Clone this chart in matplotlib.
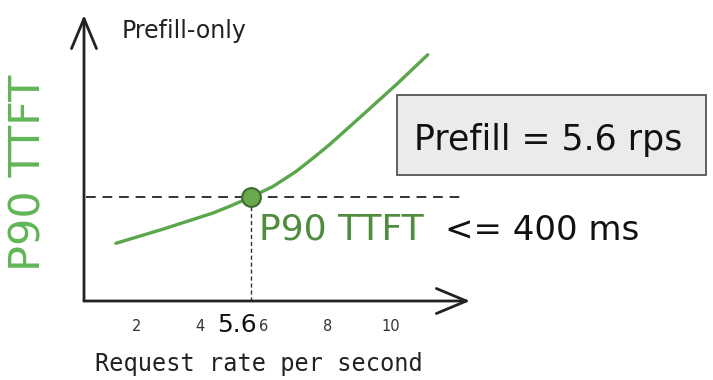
import matplotlib
matplotlib.use("Agg")
import matplotlib.pyplot as plt
from matplotlib.patches import Rectangle
from matplotlib.transforms import blended_transform_factory

# Точки кривой (rps -> P90 TTFT, мс)
rate = [1.35, 2.82, 4.39, 4.92, 5.6, 6.28, 7.01, 7.54, 8.06, 9.11, 10.16, 11.15]
ttft = [222, 276, 338, 364, 400, 440, 498, 549, 601, 716, 832, 947]

slo_ms = 400
prefill_rps = 5.6
tick_vals = [2, 4, 6, 8, 10]
tick_labels = ["2", "4", "6", "8", "10"]

W, H = 713, 380
GREEN = "#5aa64a"
GREEN_TXT = "#4f8c3e"
GREEN_LBL = "#62b657"
INK = "#222222"

def fx(px):
    return px / W

def fy(py):
    return 1 - py / H

plt.rcParams["font.family"] = ["DejaVu Sans"]

fig = plt.figure(figsize=(W / 100, H / 100), dpi=100)
ax = fig.add_axes([fx(84), fy(301), fx(470) - fx(84), fy(15) - fy(301)])
ax.set_xlim(0.346, 12.48)
ax.set_ylim(0, 1100)
for s in ax.spines.values():
    s.set_visible(False)
ax.set_yticks([])
ax.set_xticks(tick_vals)
ax.set_xticklabels(tick_labels, fontsize=10.5, color="#333333")
ax.tick_params(axis="x", length=0, pad=13)

# оси со стрелками
arrow = dict(arrowstyle="->,head_length=0.6,head_width=0.25", lw=2.0,
             color=INK, mutation_scale=36, shrinkA=0, shrinkB=0)
ax.annotate("", xy=(1.0, 0), xytext=(0, 0), xycoords="axes fraction",
            arrowprops=arrow, annotation_clip=False)
ax.annotate("", xy=(0, 1.0), xytext=(0, 0), xycoords="axes fraction",
            arrowprops=arrow, annotation_clip=False)

# пороги
ax.axhline(slo_ms, xmin=0.005, xmax=0.988, color="#333333", lw=1.4,
           dashes=(5, 3.5), zorder=2)
ax.plot([prefill_rps, prefill_rps], [0, slo_ms], color="#333333", lw=1.0,
        dashes=(3, 2), zorder=2)

# кривая и точка
ax.plot(rate, ttft, color=GREEN, lw=2.4, solid_capstyle="round",
        solid_joinstyle="round", zorder=3)
ax.plot([prefill_rps], [slo_ms], "o", ms=13.5, mfc="#6aa84f", mec="#3f6a30",
        mew=1.5, zorder=4)

# подпись 5.6 под осью
trans = blended_transform_factory(ax.transData, ax.transAxes)
ax.annotate("5.6", xy=(prefill_rps, 0), xycoords=trans, xytext=(-10, -17),
            textcoords="offset points", ha="center", va="center",
            fontsize=18, color="#111111")

# тексты
fig.text(fx(122), fy(31), "Prefill-only", fontsize=17, color=INK,
         ha="left", va="center")
fig.text(fx(29), fy(173), "P90 TTFT", fontsize=31, color=GREEN_LBL,
         rotation=90, ha="center", va="center")
fig.text(fx(95), fy(371), "Request rate per second", fontsize=17,
         family="DejaVu Sans Mono", color=INK, ha="left", va="baseline")

fig.patches.append(Rectangle((fx(397), fy(175)), fx(706) - fx(397),
                             fy(95) - fy(175), transform=fig.transFigure,
                             facecolor="#ebebeb", edgecolor="#555555", lw=1.3))
fig.text(fx(414), fy(150), "Prefill = 5.6 rps", fontsize=25, color="#111111",
         ha="left", va="baseline")

fig.text(fx(259), fy(240), "P90 TTFT", fontsize=26, color=GREEN_TXT,
         ha="left", va="baseline")
fig.text(fx(445), fy(240), "<= 400 ms", fontsize=24.5, color="#111111",
         ha="left", va="baseline")

fig.savefig("out.png", dpi=100)
